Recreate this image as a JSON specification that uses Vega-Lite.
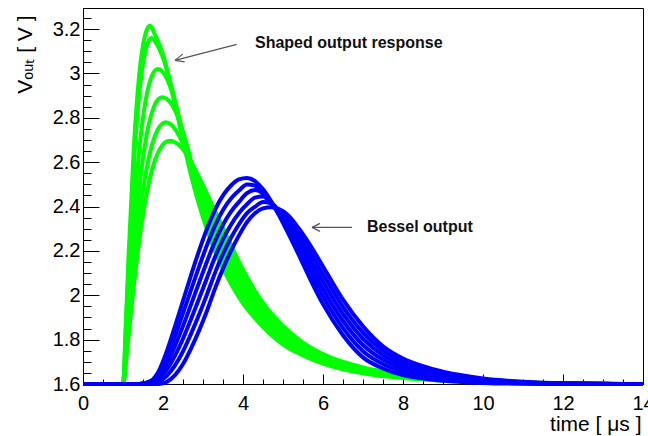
{
  "$schema": "https://vega.github.io/schema/vega-lite/v6.json",
  "width": 560,
  "height": 376,
  "autosize": {"type": "none"},
  "padding": {"left": 83, "top": 8, "right": 5, "bottom": 52},
  "background": "white",
  "config": {"view": {"stroke": "#000", "strokeWidth": 1}},
  "datasets": {
    "green": [
      {"s":"g1","t":0,"v":1.6},{"s":"g1","t":1.0,"v":1.6},{"s":"g1","t":1.068,"v":1.862},{"s":"g1","t":1.136,"v":2.164},{"s":"g1","t":1.272,"v":2.671},{"s":"g1","t":1.408,"v":2.999},{"s":"g1","t":1.544,"v":3.167},{"s":"g1","t":1.612,"v":3.204},{"s":"g1","t":1.68,"v":3.215},{"s":"g1","t":1.8,"v":3.175},{"s":"g1","t":2.0,"v":3.086},{"s":"g1","t":2.2,"v":2.94},{"s":"g1","t":2.4,"v":2.779},{"s":"g1","t":2.6,"v":2.617},{"s":"g1","t":2.8,"v":2.472},{"s":"g1","t":3.0,"v":2.351},{"s":"g1","t":3.3,"v":2.198},{"s":"g1","t":3.6,"v":2.085},{"s":"g1","t":4.0,"v":1.963},{"s":"g1","t":4.5,"v":1.858},{"s":"g1","t":5.0,"v":1.778},{"s":"g1","t":5.5,"v":1.729},{"s":"g1","t":6.0,"v":1.692},{"s":"g1","t":7,"v":1.648},{"s":"g1","t":8,"v":1.627},{"s":"g1","t":9,"v":1.615},{"s":"g1","t":10,"v":1.608},{"s":"g1","t":11,"v":1.605},{"s":"g1","t":12,"v":1.602},{"s":"g1","t":14,"v":1.6},
      {"s":"g2","t":0,"v":1.6},{"s":"g2","t":1.0,"v":1.6},{"s":"g2","t":1.072,"v":1.853},{"s":"g2","t":1.144,"v":2.144},{"s":"g2","t":1.288,"v":2.634},{"s":"g2","t":1.432,"v":2.951},{"s":"g2","t":1.576,"v":3.113},{"s":"g2","t":1.648,"v":3.149},{"s":"g2","t":1.72,"v":3.16},{"s":"g2","t":1.85,"v":3.13},{"s":"g2","t":2.0,"v":3.07},{"s":"g2","t":2.2,"v":2.95},{"s":"g2","t":2.4,"v":2.8},{"s":"g2","t":2.6,"v":2.65},{"s":"g2","t":2.8,"v":2.51},{"s":"g2","t":3.0,"v":2.38},{"s":"g2","t":3.3,"v":2.234},{"s":"g2","t":3.6,"v":2.121},{"s":"g2","t":4.0,"v":1.993},{"s":"g2","t":4.5,"v":1.879},{"s":"g2","t":5.0,"v":1.795},{"s":"g2","t":5.5,"v":1.741},{"s":"g2","t":6.0,"v":1.701},{"s":"g2","t":7,"v":1.653},{"s":"g2","t":8,"v":1.631},{"s":"g2","t":9,"v":1.617},{"s":"g2","t":10,"v":1.609},{"s":"g2","t":11,"v":1.605},{"s":"g2","t":12,"v":1.602},{"s":"g2","t":14,"v":1.6},
      {"s":"g3","t":0,"v":1.6},{"s":"g3","t":1.0,"v":1.6},{"s":"g3","t":1.087,"v":1.83},{"s":"g3","t":1.174,"v":2.096},{"s":"g3","t":1.348,"v":2.541},{"s":"g3","t":1.522,"v":2.83},{"s":"g3","t":1.696,"v":2.977},{"s":"g3","t":1.783,"v":3.01},{"s":"g3","t":1.87,"v":3.02},{"s":"g3","t":2.0,"v":3.005},{"s":"g3","t":2.2,"v":2.93},{"s":"g3","t":2.4,"v":2.8},{"s":"g3","t":2.6,"v":2.655},{"s":"g3","t":2.8,"v":2.52},{"s":"g3","t":3.0,"v":2.409},{"s":"g3","t":3.3,"v":2.271},{"s":"g3","t":3.6,"v":2.157},{"s":"g3","t":4.0,"v":2.024},{"s":"g3","t":4.5,"v":1.901},{"s":"g3","t":5.0,"v":1.812},{"s":"g3","t":5.5,"v":1.752},{"s":"g3","t":6.0,"v":1.709},{"s":"g3","t":7,"v":1.659},{"s":"g3","t":8,"v":1.634},{"s":"g3","t":9,"v":1.619},{"s":"g3","t":10,"v":1.61},{"s":"g3","t":11,"v":1.606},{"s":"g3","t":12,"v":1.602},{"s":"g3","t":14,"v":1.6},
      {"s":"g4","t":0,"v":1.6},{"s":"g4","t":1.0,"v":1.6},{"s":"g4","t":1.098,"v":1.809},{"s":"g4","t":1.196,"v":2.051},{"s":"g4","t":1.392,"v":2.457},{"s":"g4","t":1.588,"v":2.72},{"s":"g4","t":1.784,"v":2.854},{"s":"g4","t":1.882,"v":2.884},{"s":"g4","t":1.98,"v":2.893},{"s":"g4","t":2.2,"v":2.865},{"s":"g4","t":2.4,"v":2.79},{"s":"g4","t":2.6,"v":2.675},{"s":"g4","t":2.8,"v":2.54},{"s":"g4","t":3.0,"v":2.437},{"s":"g4","t":3.3,"v":2.307},{"s":"g4","t":3.6,"v":2.193},{"s":"g4","t":4.0,"v":2.054},{"s":"g4","t":4.5,"v":1.922},{"s":"g4","t":5.0,"v":1.828},{"s":"g4","t":5.5,"v":1.764},{"s":"g4","t":6.0,"v":1.718},{"s":"g4","t":7,"v":1.664},{"s":"g4","t":8,"v":1.638},{"s":"g4","t":9,"v":1.621},{"s":"g4","t":10,"v":1.611},{"s":"g4","t":11,"v":1.606},{"s":"g4","t":12,"v":1.603},{"s":"g4","t":14,"v":1.6},
      {"s":"g5","t":0,"v":1.6},{"s":"g5","t":1.0,"v":1.6},{"s":"g5","t":1.108,"v":1.791},{"s":"g5","t":1.216,"v":2.012},{"s":"g5","t":1.432,"v":2.382},{"s":"g5","t":1.648,"v":2.622},{"s":"g5","t":1.864,"v":2.745},{"s":"g5","t":1.972,"v":2.772},{"s":"g5","t":2.08,"v":2.78},{"s":"g5","t":2.2,"v":2.77},{"s":"g5","t":2.4,"v":2.72},{"s":"g5","t":2.6,"v":2.64},{"s":"g5","t":2.8,"v":2.55},{"s":"g5","t":3.0,"v":2.466},{"s":"g5","t":3.3,"v":2.344},{"s":"g5","t":3.6,"v":2.229},{"s":"g5","t":4.0,"v":2.085},{"s":"g5","t":4.5,"v":1.944},{"s":"g5","t":5.0,"v":1.845},{"s":"g5","t":5.5,"v":1.775},{"s":"g5","t":6.0,"v":1.726},{"s":"g5","t":7,"v":1.67},{"s":"g5","t":8,"v":1.641},{"s":"g5","t":9,"v":1.623},{"s":"g5","t":10,"v":1.612},{"s":"g5","t":11,"v":1.607},{"s":"g5","t":12,"v":1.603},{"s":"g5","t":14,"v":1.6},
      {"s":"g6","t":0,"v":1.6},{"s":"g6","t":1.0,"v":1.6},{"s":"g6","t":1.117,"v":1.778},{"s":"g6","t":1.234,"v":1.983},{"s":"g6","t":1.468,"v":2.327},{"s":"g6","t":1.702,"v":2.55},{"s":"g6","t":1.936,"v":2.664},{"s":"g6","t":2.053,"v":2.689},{"s":"g6","t":2.17,"v":2.697},{"s":"g6","t":2.4,"v":2.677},{"s":"g6","t":2.6,"v":2.633},{"s":"g6","t":2.8,"v":2.568},{"s":"g6","t":3.0,"v":2.495},{"s":"g6","t":3.3,"v":2.38},{"s":"g6","t":3.6,"v":2.265},{"s":"g6","t":4.0,"v":2.115},{"s":"g6","t":4.5,"v":1.965},{"s":"g6","t":5.0,"v":1.862},{"s":"g6","t":5.5,"v":1.787},{"s":"g6","t":6.0,"v":1.735},{"s":"g6","t":7,"v":1.675},{"s":"g6","t":8,"v":1.645},{"s":"g6","t":9,"v":1.625},{"s":"g6","t":10,"v":1.613},{"s":"g6","t":11,"v":1.607},{"s":"g6","t":12,"v":1.603},{"s":"g6","t":14,"v":1.6}
    ],
    "blue": [
      {"s":"b1","t":0,"v":1.6},{"s":"b1","t":1.4,"v":1.6},{"s":"b1","t":1.7,"v":1.615},{"s":"b1","t":1.9,"v":1.66},{"s":"b1","t":2.1,"v":1.75},{"s":"b1","t":2.3,"v":1.86},{"s":"b1","t":2.5,"v":1.975},{"s":"b1","t":2.7,"v":2.09},{"s":"b1","t":2.9,"v":2.2},{"s":"b1","t":3.1,"v":2.3},{"s":"b1","t":3.3,"v":2.385},{"s":"b1","t":3.5,"v":2.45},{"s":"b1","t":3.7,"v":2.495},{"s":"b1","t":3.9,"v":2.522},{"s":"b1","t":4.1,"v":2.529},{"s":"b1","t":4.3,"v":2.515},{"s":"b1","t":4.5,"v":2.478},{"s":"b1","t":4.7,"v":2.425},{"s":"b1","t":4.9,"v":2.36},{"s":"b1","t":5.1,"v":2.29},{"s":"b1","t":5.4,"v":2.18},{"s":"b1","t":5.7,"v":2.065},{"s":"b1","t":6.0,"v":1.96},{"s":"b1","t":6.5,"v":1.82},{"s":"b1","t":7.0,"v":1.72},{"s":"b1","t":7.5,"v":1.67},{"s":"b1","t":8.0,"v":1.64},{"s":"b1","t":8.5,"v":1.625},{"s":"b1","t":9.0,"v":1.615},{"s":"b1","t":10,"v":1.605},{"s":"b1","t":11,"v":1.601},{"s":"b1","t":12,"v":1.6},{"s":"b1","t":14,"v":1.6},
      {"s":"b2","t":0,"v":1.6},{"s":"b2","t":1.4,"v":1.6},{"s":"b2","t":1.7,"v":1.612},{"s":"b2","t":1.9,"v":1.648},{"s":"b2","t":2.1,"v":1.722},{"s":"b2","t":2.3,"v":1.816},{"s":"b2","t":2.5,"v":1.918},{"s":"b2","t":2.7,"v":2.024},{"s":"b2","t":2.9,"v":2.128},{"s":"b2","t":3.1,"v":2.226},{"s":"b2","t":3.3,"v":2.314},{"s":"b2","t":3.5,"v":2.384},{"s":"b2","t":3.7,"v":2.436},{"s":"b2","t":3.9,"v":2.472},{"s":"b2","t":4.1,"v":2.499},{"s":"b2","t":4.3,"v":2.495},{"s":"b2","t":4.5,"v":2.461},{"s":"b2","t":4.7,"v":2.419},{"s":"b2","t":4.9,"v":2.366},{"s":"b2","t":5.1,"v":2.305},{"s":"b2","t":5.4,"v":2.204},{"s":"b2","t":5.7,"v":2.096},{"s":"b2","t":6.0,"v":1.994},{"s":"b2","t":6.5,"v":1.852},{"s":"b2","t":7.0,"v":1.748},{"s":"b2","t":7.5,"v":1.69},{"s":"b2","t":8.0,"v":1.655},{"s":"b2","t":8.5,"v":1.636},{"s":"b2","t":9.0,"v":1.623},{"s":"b2","t":10,"v":1.609},{"s":"b2","t":11,"v":1.603},{"s":"b2","t":12,"v":1.601},{"s":"b2","t":14,"v":1.6},
      {"s":"b3","t":0,"v":1.6},{"s":"b3","t":1.4,"v":1.6},{"s":"b3","t":1.7,"v":1.609},{"s":"b3","t":1.9,"v":1.636},{"s":"b3","t":2.1,"v":1.694},{"s":"b3","t":2.3,"v":1.772},{"s":"b3","t":2.5,"v":1.861},{"s":"b3","t":2.7,"v":1.958},{"s":"b3","t":2.9,"v":2.056},{"s":"b3","t":3.1,"v":2.152},{"s":"b3","t":3.3,"v":2.243},{"s":"b3","t":3.5,"v":2.318},{"s":"b3","t":3.7,"v":2.377},{"s":"b3","t":3.9,"v":2.421},{"s":"b3","t":4.1,"v":2.46},{"s":"b3","t":4.3,"v":2.474},{"s":"b3","t":4.5,"v":2.458},{"s":"b3","t":4.7,"v":2.414},{"s":"b3","t":4.9,"v":2.371},{"s":"b3","t":5.1,"v":2.32},{"s":"b3","t":5.4,"v":2.228},{"s":"b3","t":5.7,"v":2.127},{"s":"b3","t":6.0,"v":2.028},{"s":"b3","t":6.5,"v":1.884},{"s":"b3","t":7.0,"v":1.776},{"s":"b3","t":7.5,"v":1.71},{"s":"b3","t":8.0,"v":1.67},{"s":"b3","t":8.5,"v":1.647},{"s":"b3","t":9.0,"v":1.631},{"s":"b3","t":10,"v":1.613},{"s":"b3","t":11,"v":1.605},{"s":"b3","t":12,"v":1.601},{"s":"b3","t":14,"v":1.6},
      {"s":"b4","t":0,"v":1.6},{"s":"b4","t":1.4,"v":1.6},{"s":"b4","t":1.7,"v":1.606},{"s":"b4","t":1.9,"v":1.624},{"s":"b4","t":2.1,"v":1.666},{"s":"b4","t":2.3,"v":1.728},{"s":"b4","t":2.5,"v":1.804},{"s":"b4","t":2.7,"v":1.892},{"s":"b4","t":2.9,"v":1.984},{"s":"b4","t":3.1,"v":2.078},{"s":"b4","t":3.3,"v":2.172},{"s":"b4","t":3.5,"v":2.252},{"s":"b4","t":3.7,"v":2.318},{"s":"b4","t":3.9,"v":2.371},{"s":"b4","t":4.1,"v":2.41},{"s":"b4","t":4.3,"v":2.44},{"s":"b4","t":4.5,"v":2.445},{"s":"b4","t":4.7,"v":2.416},{"s":"b4","t":4.9,"v":2.377},{"s":"b4","t":5.1,"v":2.335},{"s":"b4","t":5.4,"v":2.252},{"s":"b4","t":5.7,"v":2.158},{"s":"b4","t":6.0,"v":2.062},{"s":"b4","t":6.5,"v":1.916},{"s":"b4","t":7.0,"v":1.804},{"s":"b4","t":7.5,"v":1.73},{"s":"b4","t":8.0,"v":1.685},{"s":"b4","t":8.5,"v":1.658},{"s":"b4","t":9.0,"v":1.639},{"s":"b4","t":10,"v":1.617},{"s":"b4","t":11,"v":1.606},{"s":"b4","t":12,"v":1.602},{"s":"b4","t":14,"v":1.6},
      {"s":"b5","t":0,"v":1.6},{"s":"b5","t":1.4,"v":1.6},{"s":"b5","t":1.7,"v":1.603},{"s":"b5","t":1.9,"v":1.612},{"s":"b5","t":2.1,"v":1.638},{"s":"b5","t":2.3,"v":1.684},{"s":"b5","t":2.5,"v":1.747},{"s":"b5","t":2.7,"v":1.826},{"s":"b5","t":2.9,"v":1.912},{"s":"b5","t":3.1,"v":2.004},{"s":"b5","t":3.3,"v":2.101},{"s":"b5","t":3.5,"v":2.186},{"s":"b5","t":3.7,"v":2.259},{"s":"b5","t":3.9,"v":2.32},{"s":"b5","t":4.1,"v":2.37},{"s":"b5","t":4.3,"v":2.399},{"s":"b5","t":4.5,"v":2.42},{"s":"b5","t":4.7,"v":2.415},{"s":"b5","t":4.9,"v":2.382},{"s":"b5","t":5.1,"v":2.35},{"s":"b5","t":5.4,"v":2.276},{"s":"b5","t":5.7,"v":2.189},{"s":"b5","t":6.0,"v":2.096},{"s":"b5","t":6.5,"v":1.948},{"s":"b5","t":7.0,"v":1.832},{"s":"b5","t":7.5,"v":1.75},{"s":"b5","t":8.0,"v":1.7},{"s":"b5","t":8.5,"v":1.669},{"s":"b5","t":9.0,"v":1.647},{"s":"b5","t":10,"v":1.621},{"s":"b5","t":11,"v":1.608},{"s":"b5","t":12,"v":1.602},{"s":"b5","t":14,"v":1.6},
      {"s":"b6","t":0,"v":1.6},{"s":"b6","t":1.4,"v":1.6},{"s":"b6","t":1.7,"v":1.6},{"s":"b6","t":1.9,"v":1.6},{"s":"b6","t":2.1,"v":1.61},{"s":"b6","t":2.3,"v":1.64},{"s":"b6","t":2.5,"v":1.69},{"s":"b6","t":2.7,"v":1.76},{"s":"b6","t":2.9,"v":1.84},{"s":"b6","t":3.1,"v":1.93},{"s":"b6","t":3.3,"v":2.03},{"s":"b6","t":3.5,"v":2.12},{"s":"b6","t":3.7,"v":2.2},{"s":"b6","t":3.9,"v":2.27},{"s":"b6","t":4.1,"v":2.33},{"s":"b6","t":4.3,"v":2.37},{"s":"b6","t":4.5,"v":2.392},{"s":"b6","t":4.7,"v":2.397},{"s":"b6","t":4.9,"v":2.388},{"s":"b6","t":5.1,"v":2.365},{"s":"b6","t":5.4,"v":2.3},{"s":"b6","t":5.7,"v":2.22},{"s":"b6","t":6.0,"v":2.13},{"s":"b6","t":6.5,"v":1.98},{"s":"b6","t":7.0,"v":1.86},{"s":"b6","t":7.5,"v":1.77},{"s":"b6","t":8.0,"v":1.715},{"s":"b6","t":8.5,"v":1.68},{"s":"b6","t":9.0,"v":1.655},{"s":"b6","t":10,"v":1.625},{"s":"b6","t":11,"v":1.61},{"s":"b6","t":12,"v":1.603},{"s":"b6","t":14,"v":1.6}
    ],
    "arrows": [
      {"t":3.843,"v":3.131,"t2":2.3,"v2":3.059},
      {"t":2.3,"v":3.059,"t2":2.543,"v2":3.052},
      {"t":2.3,"v":3.059,"t2":2.493,"v2":3.087},
      {"t":6.725,"v":2.306,"t2":5.725,"v2":2.306},
      {"t":5.725,"v":2.306,"t2":5.925,"v2":2.324},
      {"t":5.725,"v":2.306,"t2":5.925,"v2":2.288}
    ],
    "notes": [
      {"t":4.3,"v":3.115,"label":"Shaped output response"},
      {"t":7.1,"v":2.284,"label":"Bessel output"}
    ]
  },
  "encoding": {
    "x": {"field": "t", "type": "quantitative", "scale": {"domain": [0, 14], "nice": false, "zero": false},
      "axis": {
        "values": [0,0.5,1,1.5,2,2.5,3,3.5,4,4.5,5,5.5,6,6.5,7,7.5,8,8.5,9,9.5,10,10.5,11,11.5,12,12.5,13,13.5,14],
        "labelExpr": "datum.value % 2 === 0 ? '' + datum.value : ''",
        "labelFlush": false, "labelOverlap": false, "labelFont": "Liberation Sans", "labelFontSize": 20, "labelColor": "#000", "labelPadding": 19,
        "tickSize": {"condition": {"test": "datum.value % 2 === 0", "value": -10}, "value": -5},
        "tickColor": "#000", "tickWidth": 1, "domainColor": "#000", "domainWidth": 1, "grid": false,
        "title": "time [ μs ]", "titleFont": "Liberation Sans", "titleFontSize": 21, "titleFontWeight": "normal", "titleColor": "#000",
        "titleAlign": "right", "titleAnchor": "end", "titleX": 558, "titleY": 46, "titleBaseline": "alphabetic"
      }
    },
    "y": {"field": "v", "type": "quantitative", "scale": {"domain": [1.6, 3.295], "nice": false, "zero": false},
      "axis": {
        "values": [1.6,1.65,1.7,1.75,1.8,1.85,1.9,1.95,2,2.05,2.1,2.15,2.2,2.25,2.3,2.35,2.4,2.45,2.5,2.55,2.6,2.65,2.7,2.75,2.8,2.85,2.9,2.95,3,3.05,3.1,3.15,3.2,3.25],
        "labelExpr": "abs(datum.value*5 - round(datum.value*5)) < 0.001 ? '' + datum.value : ''",
        "labelFlush": false, "labelOverlap": false, "labelFont": "Liberation Sans", "labelFontSize": 20, "labelColor": "#000", "labelPadding": 19,
        "tickSize": {"condition": {"test": "abs(datum.value*5 - round(datum.value*5)) < 0.001", "value": -16}, "value": -8},
        "tickColor": "#000", "tickWidth": 1, "domainColor": "#000", "domainWidth": 1, "grid": false,
        "title": "Vₒᵤₜ [ V ]", "titleFont": "Liberation Sans", "titleFontSize": 21, "titleFontWeight": "normal", "titleColor": "#000",
        "titleAngle": -90, "titleAlign": "right", "titleBaseline": "middle", "titleX": -58, "titleY": 7
      }
    }
  },
  "layer": [
    {
      "data": {"name": "green"},
      "mark": {"type": "line", "color": "#00ff00", "strokeWidth": 4, "interpolate": "monotone", "clip": false},
      "encoding": {"detail": {"field": "s", "type": "nominal"}}
    },
    {
      "data": {"name": "blue"},
      "mark": {"type": "line", "color": "#0000ff", "strokeWidth": 4, "interpolate": "monotone", "clip": false},
      "encoding": {"detail": {"field": "s", "type": "nominal"}}
    },
    {
      "data": {"name": "arrows"},
      "mark": {"type": "rule", "color": "#555555", "strokeWidth": 1.2},
      "encoding": {"x2": {"field": "t2"}, "y2": {"field": "v2"}}
    },
    {
      "data": {"name": "notes"},
      "mark": {"type": "text", "font": "Liberation Sans", "fontWeight": "bold", "fontSize": 16, "align": "left", "baseline": "alphabetic", "color": "#111"},
      "encoding": {"text": {"field": "label", "type": "nominal"}}
    }
  ]
}
